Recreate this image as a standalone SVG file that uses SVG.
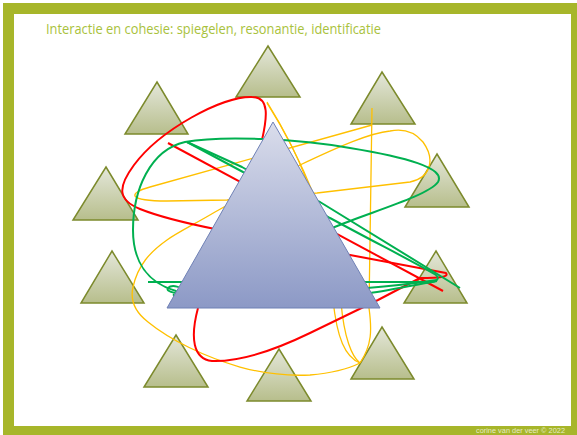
<svg xmlns="http://www.w3.org/2000/svg" width="577" height="435" viewBox="0 0 577 435">
<defs>
<linearGradient id="gs" x1="0" y1="0" x2="0" y2="1">
<stop offset="0" stop-color="#E4E7DA"/>
<stop offset="1" stop-color="#B7BE8C"/>
</linearGradient>
<linearGradient id="gb" x1="0" y1="0" x2="0" y2="1">
<stop offset="0" stop-color="#DADDEB"/>
<stop offset="1" stop-color="#8C99C6"/>
</linearGradient>
<style>
.st{fill:url(#gs);stroke:#7C8A2C;stroke-width:1.5;stroke-linejoin:miter}
.r{fill:none;stroke:#FF0000;stroke-width:2;stroke-linejoin:round}
.g{fill:none;stroke:#00B050;stroke-width:2;stroke-linejoin:round}
.y{fill:none;stroke:#FFC000;stroke-width:1.3;stroke-linejoin:round}
</style>
</defs>
<rect x="0" y="0" width="577" height="435" fill="#FFFFFF"/>
<path d="M3,3 H577 V435 H3 Z M14,14 V426 H571 V14 Z" fill="#A7B62A" fill-rule="evenodd"/>
<text x="46" y="34" font-family="'Open Sans','Noto Sans',sans-serif" font-size="15" fill="#A9C23C" textLength="335" lengthAdjust="spacingAndGlyphs">Interactie en cohesie: spiegelen, resonantie, identificatie</text>
<text x="476" y="433" font-family="'Liberation Sans',sans-serif" font-size="7" fill="#E6EBC4" textLength="89" lengthAdjust="spacingAndGlyphs">corine van der veer © 2022</text>

<g id="t-top"><polygon class="st" points="268,46 300,97 236,97"/></g>
<g id="t-topright"><polygon class="st" points="382,72 415,124 351,124"/></g>
<g id="t-upperleft"><polygon class="st" points="157,82 188,134 125,134"/></g>
<g id="t-left"><polygon class="st" points="106,167 138,220 73,220"/></g>
<g id="t-lowerleft"><polygon class="st" points="112,251 144,303 81,303"/></g>
<g id="t-right"><polygon class="st" points="437,154 469,207 405,207"/></g>
<g id="t-lowerright"><polygon class="st" points="436,251 467,303 404,303"/></g>
<g id="t-bottomleft"><polygon class="st" points="176,335 208,387 144,387"/></g>
<g id="t-bottom"><polygon class="st" points="279,349 311,401 247,401"/></g>
<g id="t-bottomright"><polygon class="st" points="382,327 414,379 351,379"/></g>

<g id="connectors">
<!-- yellow -->
<path class="y" d="M372,108 L369,308 C372,330 372,345 360,363"/>
<path class="y" d="M267,102 C292,142 326,205 333,300 C337,338 345,357 360,363"/>
<path class="y" d="M267,103 C298,152 336,232 341,302 C344,338 352,357 360,363"/>
<path class="y" d="M372,125 L150,187 C128,193 127,201 167,201 L227,200 L317,193 L410,182 C430,178 436,160 423,142 C413,130 400,129 390,131 C370,133 340,146 300,165 L215,212 C195,224 178,232 167,240 C150,252 138,265 133,287 C130,300 135,312 148,322 C170,340 205,357 240,367 C265,374 290,376 310,375 C333,373 350,368 360,363"/>
<!-- red -->
<path class="r" d="M443,291 L168,143"/>
<path class="r" d="M262,140 C267,118 270,97 252,97 C222,96 160,130 134,165 C117,188 118,200 140,209 C165,219 195,225 215,229 L350,255 L446,273 C449,277 440,278 420,278 L378,300 L310,333 C275,350 240,362 212,361 C193,359 190,338 198,308"/>
<!-- green -->
<path class="g" d="M332,228 C370,212 428,196 438,182 C446,168 405,157 350,148 C300,139 222,135 185,142 C150,150 133,190 133,230 C133,262 148,283 176,291 L215,293"/>
<path class="g" d="M187,142 L243,172 L320,202 L460,288"/>
<path class="g" d="M187,142 L242,167 L330,218 C378,244 418,264 436,275 C442,281 432,283 420,283"/>
<path class="g" d="M148,282 L430,282"/>
<path class="g" d="M437,280 C410,284 380,287 367,288 L200,294 C178,295 165,292 168,288 C172,284 182,287 186,292"/>
<path class="g" d="M437,281 C410,286 385,291 370,293 L200,300 C182,301 172,298 174,294"/>
</g>

<g id="t-center"><polygon points="273,122 380,308 167,308" fill="url(#gb)" stroke="#6F80B5" stroke-width="1"/></g>
</svg>
